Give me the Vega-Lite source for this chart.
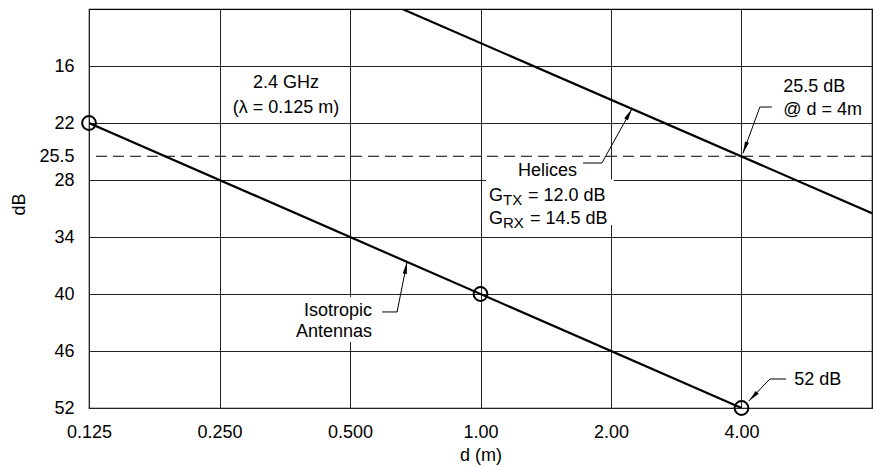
{
  "$schema": "https://vega.github.io/schema/vega-lite/v6.json",
  "autosize": "none",
  "width": 783,
  "height": 399,
  "padding": {"left": 89, "top": 9, "right": 1, "bottom": 59},
  "background": "white",
  "config": {
    "font": "Liberation Sans",
    "view": {"stroke": "#000", "strokeWidth": 1.2},
    "axis": {"labelFont": "Liberation Sans", "titleFont": "Liberation Sans", "labelFontSize": 18, "titleFontSize": 18, "labelColor": "#000", "titleColor": "#000", "titleFontWeight": "normal", "domain": false, "ticks": false, "tickSize": 0, "gridColor": "#222", "gridWidth": 1, "gridOpacity": 1}
  },
  "datasets": {
    "curves": [
      {"series": "Isotropic", "d": 0.125, "dB": 22},
      {"series": "Isotropic", "d": 4, "dB": 52},
      {"series": "Helices", "d": 0.66, "dB": 10},
      {"series": "Helices", "d": 8, "dB": 31.5}
    ],
    "markers": [
      {"d": 0.125, "dB": 22},
      {"d": 1, "dB": 40},
      {"d": 4, "dB": 52}
    ],
    "reference": [{"dB": 25.5}],
    "boxes": [
      {"note": "helices", "d1": 1.03, "d2": 2.03, "dB1": 27.95, "dB2": 32.74},
      {"note": "iso", "d1": 0.367, "d2": 0.574, "dB1": 40.32, "dB2": 45.05}
    ],
    "leaders": [
      {"note": "iso", "k": 0, "d": 0.593, "dB": 41.89},
      {"note": "iso", "k": 1, "d": 0.642, "dB": 41.89},
      {"note": "iso", "k": 2, "d": 0.677, "dB": 36.63},
      {"note": "helices", "k": 0, "d": 1.724, "dB": 26.21},
      {"note": "helices", "k": 1, "d": 1.906, "dB": 26.21},
      {"note": "helices", "k": 2, "d": 2.236, "dB": 20.5},
      {"note": "ref", "k": 0, "d": 4.70, "dB": 20.32},
      {"note": "ref", "k": 1, "d": 4.41, "dB": 20.32},
      {"note": "ref", "k": 2, "d": 4.03, "dB": 25.2},
      {"note": "min", "k": 0, "d": 5.07, "dB": 48.95},
      {"note": "min", "k": 1, "d": 4.65, "dB": 48.95},
      {"note": "min", "k": 2, "d": 4.16, "dB": 51.26}
    ],
    "labels": [
      {"note": "freq", "d": 0.356, "dB": 18.3, "text": "2.4 GHz"},
      {"note": "freq", "d": 0.356, "dB": 20.95, "text": "(λ = 0.125 m)"},
      {"note": "ref", "d": 4.99, "dB": 18.74, "text": "25.5 dB"},
      {"note": "ref", "d": 4.99, "dB": 21.2, "text": "@ d = 4m"},
      {"note": "helices", "d": 1.67, "dB": 27.58, "text": "Helices"},
      {"note": "iso", "d": 0.562, "dB": 42.32, "text": "Isotropic"},
      {"note": "iso", "d": 0.562, "dB": 44.53, "text": "Antennas"},
      {"note": "min", "d": 5.29, "dB": 49.58, "text": "52 dB"},
      {"note": "gain", "d": 1.046, "dB": 30.21, "text": "G"},
      {"note": "gain", "d": 1.287, "dB": 30.21, "text": "= 12.0 dB"},
      {"note": "gain", "d": 1.046, "dB": 32.63, "text": "G"},
      {"note": "gain", "d": 1.30, "dB": 32.63, "text": "= 14.5 dB"},
      {"note": "sub", "d": 1.127, "dB": 30.21, "text": "TX"},
      {"note": "sub", "d": 1.127, "dB": 32.63, "text": "RX"}
    ]
  },
  "encoding": {
    "x": {"field": "d", "type": "quantitative", "title": "d (m)",
      "scale": {"type": "log", "domain": [0.125, 8], "nice": false},
      "axis": {"values": [0.125, 0.25, 0.5, 1, 2, 4], "labelExpr": "datum.value < 1 ? format(datum.value, '.3f') : format(datum.value, '.2f')", "labelPadding": 15, "titlePadding": 5, "labelFlush": false}},
    "y": {"field": "dB", "type": "quantitative", "title": "dB",
      "scale": {"domain": [10, 52], "reverse": true, "nice": false, "zero": false},
      "axis": {"values": [16, 22, 25.5, 28, 34, 40, 46, 52], "labelExpr": "'' + datum.value", "labelPadding": 15, "titleX": -61, "titleY": 195, "gridOpacity": {"condition": {"test": "datum.value === 25.5", "value": 0}, "value": 1}}}
  },
  "layer": [
    {
      "data": {"name": "boxes"},
      "mark": {"type": "rect", "fill": "white", "stroke": null},
      "encoding": {
        "x": {"field": "d1", "type": "quantitative"},
        "x2": {"field": "d2"},
        "y": {"field": "dB1", "type": "quantitative"},
        "y2": {"field": "dB2"}
      }
    },
    {
      "data": {"name": "reference"},
      "mark": {"type": "rule", "color": "#000", "strokeWidth": 1, "strokeDash": [11, 6]},
      "encoding": {"x": null, "y": {"field": "dB", "type": "quantitative"}}
    },
    {
      "data": {"name": "curves"},
      "mark": {"type": "line", "color": "#000", "strokeWidth": 2.2, "clip": true},
      "encoding": {"detail": {"field": "series"}}
    },
    {
      "data": {"name": "leaders"},
      "mark": {"type": "line", "color": "#000", "strokeWidth": 1},
      "encoding": {"detail": {"field": "note"}, "order": {"field": "k", "type": "quantitative"}}
    },
    {
      "data": {"name": "leaders"},
      "transform": [{"filter": "datum.k === 2 && datum.note === 'iso'"}],
      "mark": {"type": "point", "shape": "M0,0L-0.35,2L0.35,2Z", "size": 144, "filled": true, "color": "#000", "strokeWidth": 0, "opacity": 1, "angle": 11}
    },
    {
      "data": {"name": "leaders"},
      "transform": [{"filter": "datum.k === 2 && datum.note === 'helices'"}],
      "mark": {"type": "point", "shape": "M0,0L-0.35,2L0.35,2Z", "size": 144, "filled": true, "color": "#000", "strokeWidth": 0, "opacity": 1, "angle": 29.5}
    },
    {
      "data": {"name": "leaders"},
      "transform": [{"filter": "datum.k === 2 && datum.note === 'ref'"}],
      "mark": {"type": "point", "shape": "M0,0L-0.35,2L0.35,2Z", "size": 144, "filled": true, "color": "#000", "strokeWidth": 0, "opacity": 1, "angle": 200}
    },
    {
      "data": {"name": "leaders"},
      "transform": [{"filter": "datum.k === 2 && datum.note === 'min'"}],
      "mark": {"type": "point", "shape": "M0,0L-0.35,2L0.35,2Z", "size": 144, "filled": true, "color": "#000", "strokeWidth": 0, "opacity": 1, "angle": 224}
    },
    {
      "data": {"name": "markers"},
      "mark": {"type": "point", "shape": "circle", "size": 190, "filled": false, "color": "#000", "strokeWidth": 2, "opacity": 1}
    },
    {
      "data": {"name": "labels"},
      "transform": [{"filter": "datum.note === 'freq'"}],
      "mark": {"type": "text", "align": "center", "baseline": "alphabetic", "fontSize": 18, "color": "#000"},
      "encoding": {"text": {"field": "text"}}
    },
    {
      "data": {"name": "labels"},
      "transform": [{"filter": "datum.note === 'ref' || datum.note === 'min' || datum.note === 'gain'"}],
      "mark": {"type": "text", "align": "left", "baseline": "alphabetic", "fontSize": 18, "color": "#000"},
      "encoding": {"text": {"field": "text"}}
    },
    {
      "data": {"name": "labels"},
      "transform": [{"filter": "datum.note === 'helices' || datum.note === 'iso'"}],
      "mark": {"type": "text", "align": "right", "baseline": "alphabetic", "fontSize": 18, "color": "#000"},
      "encoding": {"text": {"field": "text"}}
    },
    {
      "data": {"name": "labels"},
      "transform": [{"filter": "datum.note === 'sub'"}],
      "mark": {"type": "text", "align": "left", "baseline": "alphabetic", "fontSize": 15, "dy": 4, "color": "#000"},
      "encoding": {"text": {"field": "text"}}
    }
  ]
}
